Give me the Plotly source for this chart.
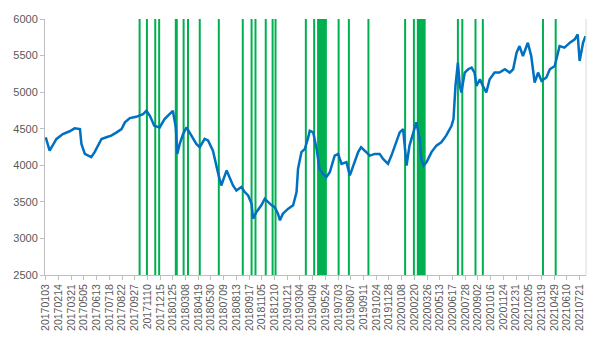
import plotly.graph_objects as go

day_idx = [0, 8, 22, 35, 49, 59, 70, 73, 80, 87, 93, 100, 114, 124, 134, 145, 155, 162, 172, 185,
           199, 206, 213, 222, 233, 243, 254, 260, 266, 269, 274, 281, 288, 298, 308, 315, 325, 332,
           342, 352, 359, 370, 376, 383, 390, 400, 407, 414, 421, 424, 431, 441, 448, 455, 462, 468,
           475, 479, 485, 496, 506, 513, 516, 523, 530, 536, 540, 547, 554, 560, 567, 574, 581, 591,
           598, 605, 615, 622, 632, 639, 645, 656, 663, 673, 683, 690, 700, 707, 714, 724, 731, 734,
           738, 744, 755, 758, 765, 768, 773, 779, 789, 799, 809, 819, 830, 834, 838, 843, 847, 850,
           857, 864, 871, 877, 881, 888, 894, 901, 908, 918, 928, 939, 949, 956, 963, 969, 976, 986,
           993, 1000, 1007, 1014, 1024, 1031, 1041, 1051, 1061, 1072, 1082, 1088, 1092, 1099, 1104]
index_level = [4383, 4200, 4360, 4428, 4465, 4505, 4495, 4292, 4156, 4133, 4111, 4180, 4360, 4383,
               4405, 4450, 4495, 4587, 4645, 4663, 4700, 4745, 4677, 4540, 4518, 4632, 4700, 4745,
               4518, 4156, 4292, 4428, 4518, 4405, 4292, 4247, 4360, 4340, 4200, 3907, 3724, 3930,
               3839, 3724, 3656, 3702, 3634, 3588, 3475, 3271, 3362, 3453, 3543, 3498, 3453, 3430,
               3339, 3248, 3339, 3407, 3453, 3634, 3951, 4180, 4224, 4360, 4473, 4450, 4224, 3951,
               3883, 3839, 3907, 4133, 4156, 4020, 4043, 3861, 4043, 4180, 4247, 4180, 4133, 4156,
               4156, 4088, 4020, 4133, 4269, 4450, 4495, 4269, 3997, 4269, 4495, 4587, 4360, 4088,
               3997, 4043, 4180, 4269, 4315, 4405, 4541, 4632, 5085, 5404, 5085, 4995, 5268, 5313,
               5336, 5268, 5085, 5177, 5085, 4995, 5177, 5268, 5268, 5313, 5268, 5313, 5540, 5630,
               5494, 5676, 5494, 5132, 5268, 5154, 5200, 5313, 5358, 5630, 5608, 5676, 5721, 5789,
               5426, 5676, 5766]

# trading-day indices of the signal days (green bars)
signal_idx = [192, 207, 224, 232, 266, 268, 282, 291, 315, 354, 403, 421, 429, 450, 464, 470,
              532, 549, 557, 559, 561, 563, 565, 567, 569, 571, 573, 599, 620, 660, 735, 753,
              761, 763, 765, 767, 769, 771, 773, 775, 843, 852, 879, 894, 1017, 1043]

tick_labels = ["20170103", "20170214", "20170321", "20170505", "20170613", "20170718", "20170822",
               "20170927", "20171110", "20171215", "20180125", "20180308", "20180419", "20180530",
               "20180709", "20180813", "20180917", "20181105", "20181210", "20190121", "20190304",
               "20190409", "20190524", "20190703", "20190807", "20190911", "20191024", "20191128",
               "20200108", "20200220", "20200326", "20200513", "20200617", "20200728", "20200902",
               "20201016", "20201124", "20201231", "20210205", "20210319", "20210429", "20210610",
               "20210721"]
label_step = 26
y_min, y_max = 2500, 6000

gx, gy = [], []
for i in signal_idx:
    gx += [i, i, None]
    gy += [y_min, y_max, None]

fig = go.Figure()
fig.add_trace(go.Scatter(x=gx, y=gy, mode="lines", line=dict(color="#00B050", width=2),
                         hoverinfo="skip", showlegend=False))
fig.add_trace(go.Scatter(x=day_idx, y=index_level, mode="lines",
                         line=dict(color="#0070C0", width=2.5), showlegend=False))

fig.update_layout(
    width=594, height=339,
    margin=dict(l=45, r=8, t=19, b=62),
    paper_bgcolor="white", plot_bgcolor="white",
    font=dict(family="Liberation Sans, Arial", color="#595959"),
    xaxis=dict(range=[-1.5, 1105], tickmode="array",
               tickvals=[k * label_step for k in range(len(tick_labels))],
               ticktext=tick_labels, tickangle=-90, tickfont=dict(size=10.5),
               showgrid=False, zeroline=False, showline=True, linecolor="#BFBFBF", linewidth=1,
               ticks="outside", ticklen=4, tickcolor="#BFBFBF"),
    yaxis=dict(range=[y_min, y_max], tickmode="linear", tick0=2500, dtick=500,
               tickfont=dict(size=11), showgrid=False, zeroline=False, showline=True,
               linecolor="#BFBFBF", linewidth=1, ticks="outside", ticklen=4, tickcolor="#BFBFBF"),
    shapes=[dict(type="line", xref="paper", yref="paper", x0=1, x1=1, y0=0, y1=1,
                 line=dict(color="#D9D9D9", width=1))],
)

fig.write_html("out.html")
